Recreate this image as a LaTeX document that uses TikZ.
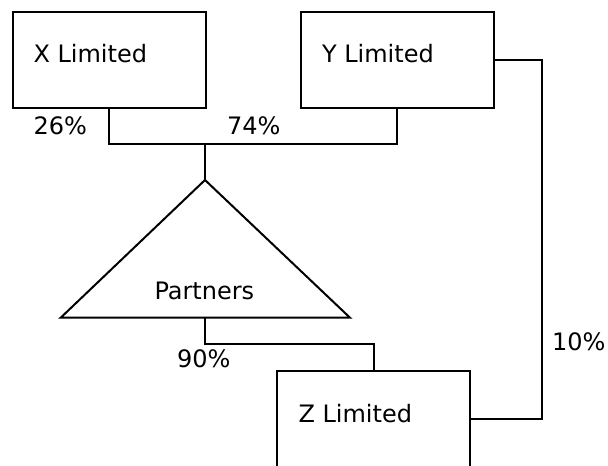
\documentclass[tikz,border=0pt]{standalone}
\usepackage{fontspec}
\setmainfont{DejaVu Sans}
\begin{document}
\begin{tikzpicture}[x=1pt,y=-1pt,
  line width=2pt,
  entity/.style={draw=black, line width=2pt, rectangle, minimum width=193pt, minimum height=96pt, inner sep=0pt},
  txt/.style={anchor=base west, inner sep=0pt, font=\fontsize{24}{28}\selectfont},
  link/.style={draw=black, line width=2pt}]
\useasboundingbox (0,0) rectangle (608,466);
% boxes
\node[entity] (xb) at (109,59.5) {};
\node[entity] (yb) at (397,59.5) {};
\node[entity] (zb) at (373.5,419) {};
% triangle
\coordinate (apex) at (205,180);
\coordinate (bl) at (60.7,317.7);
\coordinate (br) at (350,317.7);
\coordinate (bm) at (205,317.7);
\draw[link, line join=miter] (apex) -- (bl) -- (br) -- cycle;
% texts
\node[txt] (xt) at (32.5,62.3) {X Limited};
\node[txt] (yt) at (321,62.3) {Y Limited};
\node[txt] (zt) at (297.5,422.7) {Z Limited};
\node[txt] (pt) at (153.5,299.3) {Partners};
\node[txt] (l26) at (32.5,134) {26\%};
\node[txt] (l74) at (226,134) {74\%};
\node[txt] (l90) at (176,367.5) {90\%};
\node[txt] (l10) at (551,350) {10\%};
% connectors
\coordinate (j) at (205,143.7);
\draw[link] (xb.south) |- (j) -| (yb.south);
\draw[link] (j) -- (apex);
\coordinate (k) at (205,344.3);
\draw[link] (bm) -- (k) -| (zb.north);
\coordinate (r) at (541.7,59.5);
\draw[link] (yb.east) -- (r) |- (zb.east);
\end{tikzpicture}
\end{document}
